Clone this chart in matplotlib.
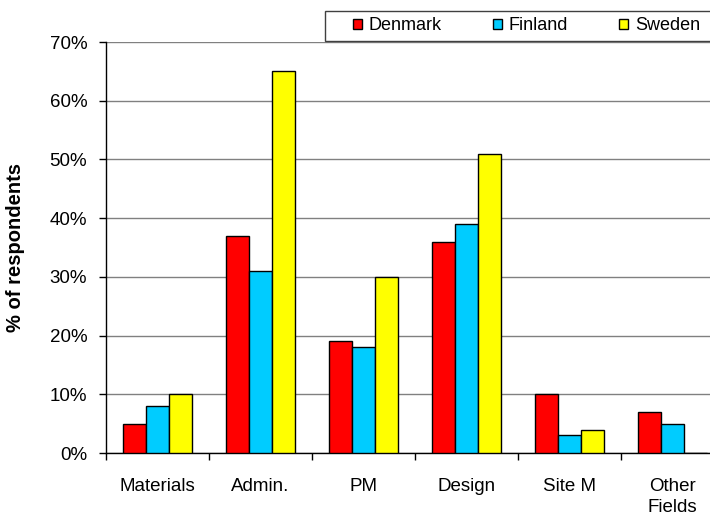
import numpy as np
import matplotlib.pyplot as plt
from matplotlib.patches import Rectangle
from matplotlib.ticker import FixedLocator, PercentFormatter

plt.rcParams['font.family'] = ['Liberation Sans', 'DejaVu Sans']

categories = ['Materials', 'Admin.', 'PM', 'Design', 'Site M', 'Other\nFields']
denmark = [5, 37, 19, 36, 10, 7]
finland = [8, 31, 18, 39, 3, 5]
sweden = [10, 65, 30, 51, 4, 0]
countries = ['Denmark', 'Finland', 'Sweden']
colors = ['#FF0000', '#00CCFF', '#FFFF00']

W, H = 710, 522
fig = plt.figure(figsize=(W / 100, H / 100), dpi=100)
# axes runs off the right edge of the canvas
ax = fig.add_axes([106 / W, 69 / H, 604 / W, 411 / H])

x = np.arange(len(categories))
w = 0.225
for i, (vals, name, c) in enumerate(zip([denmark, finland, sweden], countries, colors)):
    ax.bar(x + (i - 1) * w, vals, w, color=c, edgecolor='black', linewidth=1,
           label=name, zorder=3)

ax.set_xlim(-0.5, -0.5 + 604 / 103)
ax.set_ylim(0, 70)
ax.set_yticks(np.arange(0, 71, 10))
ax.yaxis.set_major_formatter(PercentFormatter(decimals=0))
ax.grid(axis='y', color='#808080', linewidth=1, zorder=0)

ax.set_xticks(x)
ax.set_xticklabels(categories, fontsize=13.5, linespacing=1.3)
ax.tick_params(axis='x', which='major', length=0, pad=18)
ax.xaxis.set_minor_locator(FixedLocator(np.arange(-0.5, 6, 1)))
ax.tick_params(axis='x', which='minor', length=5, width=1, direction='out')
ax.tick_params(axis='y', length=5, width=1, labelsize=13.5, pad=8.5)

for s in ['top', 'right']:
    ax.spines[s].set_visible(False)
ax.spines['left'].set_linewidth(1)
ax.spines['bottom'].set_linewidth(1)

ax.set_ylabel('% of respondents', fontsize=14.5, fontweight='bold')
ax.yaxis.set_label_coords(-(106 - 25) / 604, 0.5)

# legend box, open on the right side
fig.patches.append(Rectangle((325 / W, 1 - 41 / H), 400 / W, 30 / H,
                             transform=fig.transFigure, facecolor='white',
                             edgecolor='#404040', linewidth=1, zorder=5))
leg = fig.legend(loc='center left', bbox_to_anchor=(349 / W, 1 - 26 / H),
                 ncol=3, fontsize=13, frameon=False,
                 handlelength=0.5, handleheight=0.5, columnspacing=2.8,
                 handletextpad=0.4, borderpad=0.2, borderaxespad=0)
leg.set_zorder(6)

fig.savefig('out.png', dpi=100)
